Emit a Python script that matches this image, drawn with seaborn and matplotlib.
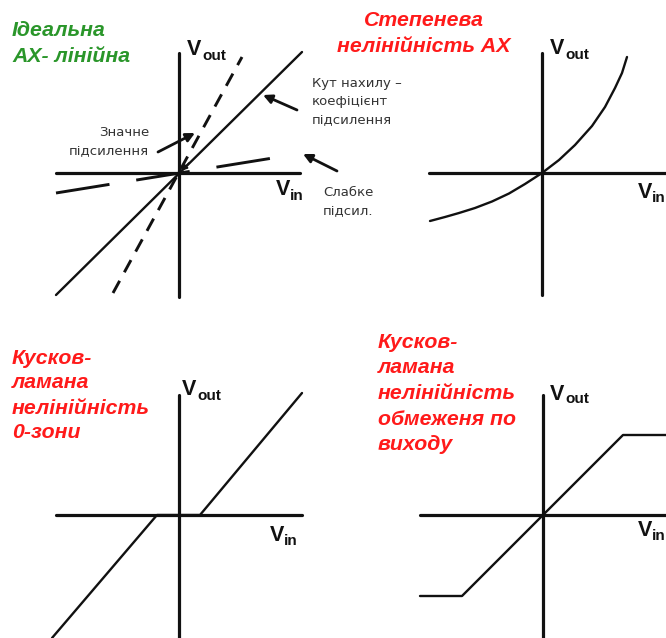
import numpy as np
import pandas as pd
import matplotlib
matplotlib.use("Agg")
import matplotlib.pyplot as plt
import seaborn as sns

sns.set_theme(style="white")
plt.rcParams['font.family'] = ['Liberation Sans', 'DejaVu Sans']

# ---------------- data (local units: Vin to the right, Vout upward) ----------------
# Panel 1: ideal linear transfer characteristic
p1_ideal_vin = [-123, 123]
p1_ideal_vout = [-122, 121]
p1_strong_vin = [-66, 63]
p1_strong_vout = [-120, 116]
p1_weak_vin = [-123, 94]
p1_weak_vout = [-20, 15]

# Panel 2: power-law nonlinearity
p2_vin = [-112, -97, -83, -67, -50, -33, -17, 0, 17, 33, 50, 63, 73, 80, 85]
p2_vout = [-48, -44, -40, -35, -28.5, -20.5, -11, 0, 13, 28, 47, 66, 85, 100, 116]

# Panel 3: dead-zone nonlinearity
p3_vin = [-127, -22, 21, 123]
p3_vout = [-123, 0, 0, 122]

# Panel 4: output saturation nonlinearity
p4_vin = [-123, -81, 80, 123]
p4_vout = [-81, -81, 80, 80]

titles = [
    ["Ідеальна", "АХ- лінійна"],
    ["Степенева", "нелінійність АХ"],
    ["Кусков-", "ламана", "нелінійність", "0-зони"],
    ["Кусков-", "ламана", "нелінійність", "обмеженя по", "виходу"],
]
axis_names = ["V", "out", "in"]
notes = [["Кут нахилу –", "коефіцієнт", "підсилення"],
         ["Значне", "підсилення"],
         ["Слабке", "підсил."]]

# ---------------- layout (pixels) ----------------
W, H = 666, 638
fig = plt.figure(figsize=(W / 100, H / 100), dpi=100)
ax = fig.add_axes([0, 0, 1, 1])
ax.set_xlim(0, W)
ax.set_ylim(H, 0)
ax.axis("off")

origins = [(179, 173), (542, 173), (179, 515), (543, 515)]
haxis = [(56, 300), (429, 666), (56, 302), (420, 666)]
vaxis = [(53, 297), (53, 295), (395, 638), (395, 638)]
# (x, V baseline, subscript baseline)
vout_pos = [(187, 55, 60), (550, 54, 59), (182, 395, 400), (550, 400, 403)]
vin_pos = [(276, 195, 200), (638, 198, 202), (270, 541, 545), (638, 536, 540)]

AX_LW = 2.3
CURVE_LW = 1.7
INK = "#111111"


def line(x, y, o, **kw):
    ox, oy = o
    df = pd.DataFrame({"x": [ox + v for v in x], "y": [oy - v for v in y]})
    sns.lineplot(data=df, x="x", y="y", ax=ax, sort=False, estimator=None,
                 color=INK, legend=False, **kw)


lab_big = dict(fontsize=15.5, fontweight="bold", ha="left", va="baseline", color=INK)
lab_small = dict(fontsize=11, fontweight="bold", ha="left", va="baseline", color=INK)

for i, o in enumerate(origins):
    ox, oy = o
    # coordinate axes
    sns.lineplot(x=list(haxis[i]), y=[oy, oy], ax=ax, color=INK, lw=AX_LW,
                 sort=False, estimator=None)
    sns.lineplot(x=[ox, ox], y=list(vaxis[i]), ax=ax, color=INK, lw=AX_LW,
                 sort=False, estimator=None)
    # axis names
    vx, vb, sb = vout_pos[i]
    ax.text(vx, vb, axis_names[0], **lab_big)
    ax.text(vx + 15, sb, axis_names[1], **lab_small)
    ix, ib, isb = vin_pos[i]
    ax.text(ix, ib, axis_names[0], **lab_big)
    ax.text(ix + 14, isb, axis_names[2], **lab_small)

# characteristics
line(p1_ideal_vin, p1_ideal_vout, origins[0], lw=CURVE_LW)
line(p1_strong_vin, p1_strong_vout, origins[0], lw=CURVE_LW + 0.4,
     linestyle=(0, (10.0 / (CURVE_LW + 0.4), 7.0 / (CURVE_LW + 0.4))))
line(p1_weak_vin, p1_weak_vout, origins[0], lw=CURVE_LW + 0.4,
     linestyle=(0, (39.0 / (CURVE_LW + 0.4), 19.5 / (CURVE_LW + 0.4))))
line(p2_vin, p2_vout, origins[1], lw=CURVE_LW)
line(p3_vin, p3_vout, origins[2], lw=CURVE_LW)
line(p4_vin, p4_vout, origins[3], lw=CURVE_LW)

# titles
title_style = dict(fontsize=15.3, fontweight="bold", fontstyle="italic")
GREEN = "#2a962a"
RED = "#ff1a1a"
for k, t in enumerate(titles[0]):
    ax.text(12, 30 + 26 * k, t, color=GREEN, ha="left", va="center", **title_style)
for k, t in enumerate(titles[1]):
    ax.text(424, 21 + 25 * k, t, color=RED, ha="center", va="center", **title_style)
for k, t in enumerate(titles[2]):
    ax.text(12, 358 + 25 * k, t, color=RED, ha="left", va="center", **title_style)
for k, t in enumerate(titles[3]):
    ax.text(378, 342 + 25.7 * k, t, color=RED, ha="left", va="center", **title_style)

# annotations
note_style = dict(fontsize=9.5, color="#333333", family=["DejaVu Sans"])
for k, t in enumerate(notes[0]):
    ax.text(312, 83 + 19 * k, t, ha="left", va="center", **note_style)
for k, t in enumerate(notes[1]):
    ax.text(149, 132 + 20 * k, t, ha="right", va="center", **note_style)
for k, t in enumerate(notes[2]):
    ax.text(323, 193 + 19 * k, t, ha="left", va="center", **note_style)

arrow_kw = dict(arrowstyle="-|>", color=INK, lw=2.0, mutation_scale=13,
                shrinkA=0, shrinkB=0)
ax.annotate("", xy=(263, 95), xytext=(297, 110), arrowprops=arrow_kw)
ax.annotate("", xy=(195, 133), xytext=(158, 152), arrowprops=arrow_kw)
ax.annotate("", xy=(303, 154), xytext=(337, 171), arrowprops=arrow_kw)
small_arrow = dict(arrowstyle="-|>", color=INK, lw=1.2, mutation_scale=9,
                   shrinkA=0, shrinkB=0)
ax.annotate("", xy=(181, 171), xytext=(189, 163), arrowprops=small_arrow)

fig.savefig("out.png", dpi=100, facecolor="white")
